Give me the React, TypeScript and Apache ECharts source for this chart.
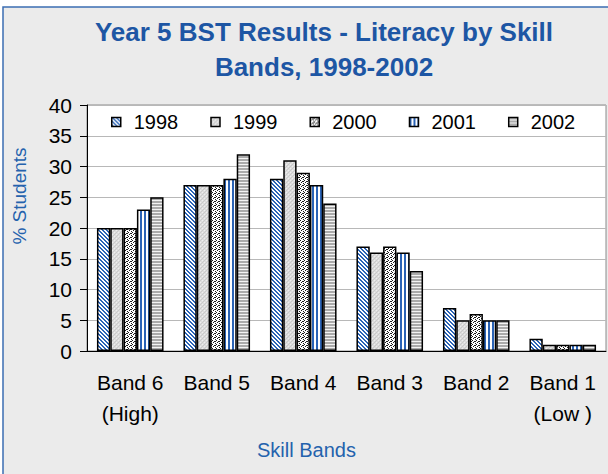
import React, { useEffect, useRef } from "react";
import * as echarts from "echarts";

const categories = ["Band 6\n(High)", "Band 5", "Band 4", "Band 3", "Band 2", "Band 1\n(Low )"];
const years = ["1998", "1999", "2000", "2001", "2002"];
const values1998 = [20, 27, 28, 17, 7, 2];
const values1999 = [20, 27, 31, 16, 5, 1];
const values2000 = [20, 27, 29, 17, 6, 1];
const values2001 = [23, 28, 27, 16, 5, 1];
const values2002 = [25, 32, 24, 13, 5, 1];
const seriesValues = [values1998, values1999, values2000, values2001, values2002];
const yMin = 0;
const yMax = 40;
const yInterval = 5;

const FONT = "'Liberation Sans', Arial, Helvetica, sans-serif";
const BLUE = "#2a63b6";

function makeTile(w: number, h: number, pick: (x: number, y: number) => string) {
  const c = document.createElement("canvas");
  c.width = w;
  c.height = h;
  const ctx = c.getContext("2d")!;
  for (let y = 0; y < h; y++) {
    for (let x = 0; x < w; x++) {
      ctx.fillStyle = pick(x, y);
      ctx.fillRect(x, y, 1, 1);
    }
  }
  return { image: c.toDataURL(), repeat: "repeat", imageWidth: w, imageHeight: h } as any;
}

function buildPatterns() {
  const p1998 = makeTile(4, 4, (x, y) => (((x - y + 8) % 4) < 2 ? BLUE : "#ffffff"));
  const p1999 = makeTile(4, 4, (x, y) => {
    if ((x + y) % 4 === 0) return "#c9c9c9";
    if ((x - y + 8) % 4 === 2) return "#eeeeee";
    return "#dcdcdc";
  });
  const dots: Record<string, boolean> = { "0,0": true, "2,1": true, "1,2": true, "3,3": true, "3,1": true };
  const p2000 = makeTile(4, 4, (x, y) => (dots[x + "," + y] ? "#1a1a1a" : "#ffffff"));
  const p2001 = makeTile(4, 1, (x) => (x < 2 ? BLUE : "#ffffff"));
  const p2002 = makeTile(1, 3, (_x, y) => (y < 2 ? "#ababab" : "#f4f4f4"));
  return [p1998, p1999, p2000, p2001, p2002];
}

export default function App() {
  const ref = useRef<HTMLDivElement>(null);
  useEffect(() => {
    if (!ref.current) return;
    document.body.style.margin = "0";
    const chart = echarts.init(ref.current, undefined, { renderer: "svg" });
    const patterns = buildPatterns();
    const option: any = {
      animation: false,
      textStyle: { fontFamily: FONT },
      graphic: [
        {
          type: "rect",
          z: -100,
          silent: true,
          shape: { x: 3, y: 7, width: 720, height: 600 },
          style: { fill: "#ebebeb", stroke: "#3b6db3", lineWidth: 1.5 },
        },
      ],
      title: {
        text: "Year 5 BST Results - Literacy by Skill\nBands, 1998-2002",
        left: 324,
        top: 14,
        padding: 0,
        textAlign: "center",
        textStyle: {
          fontFamily: FONT,
          fontSize: 26,
          fontWeight: "bold",
          color: "#1d56a4",
          lineHeight: 35,
        },
      },
      legend: {
        data: years,
        left: 111,
        top: 112,
        padding: 0,
        itemWidth: 9,
        itemHeight: 9,
        itemGap: 32,
        icon: "rect",
        itemStyle: { borderColor: "#000", borderWidth: 1.5 },
        textStyle: { fontFamily: FONT, fontSize: 20, color: "#000", padding: [0, 0, 0, 8] },
      },
      grid: {
        left: 87,
        top: 105,
        width: 519,
        height: 246,
        show: true,
        backgroundColor: "#ffffff",
        borderColor: "#8a8a8a",
        borderWidth: 1,
      },
      xAxis: {
        type: "category",
        data: categories,
        axisLine: { lineStyle: { color: "#000", width: 1 } },
        axisTick: { length: 6, lineStyle: { color: "#000" } },
        axisLabel: { fontFamily: FONT, fontSize: 21, color: "#000", lineHeight: 31, margin: 16, interval: 0 },
        name: "Skill Bands",
        nameLocation: "middle",
        nameGap: 89,
        nameTextStyle: { fontFamily: FONT, fontSize: 20, color: "#2462ad", padding: [0, 80, 0, 0] },
      },
      yAxis: {
        type: "value",
        min: yMin,
        max: yMax,
        interval: yInterval,
        axisLine: { show: true, lineStyle: { color: "#000", width: 1 } },
        axisTick: { show: true, length: 7, lineStyle: { color: "#000" } },
        axisLabel: { fontFamily: FONT, fontSize: 21, color: "#000", margin: 15 },
        splitLine: { lineStyle: { color: "#b8b8b8" } },
        name: "% Students",
        nameLocation: "middle",
        nameGap: 58,
        nameTextStyle: { fontFamily: FONT, fontSize: 19, color: "#2462ad", padding: [0, 0, 0, 64] },
      },
      series: years.map((y, i) => ({
        type: "bar",
        name: y,
        data: seriesValues[i],
        barGap: "0%",
        barCategoryGap: "23%",
        itemStyle: { color: patterns[i], borderColor: "#000", borderWidth: 1.5 },
      })),
    };
    chart.setOption(option);
    return () => chart.dispose();
  }, []);
  return <div ref={ref} style={{ position: "absolute", left: 0, top: 0, width: 608, height: 474 }} />;
}
